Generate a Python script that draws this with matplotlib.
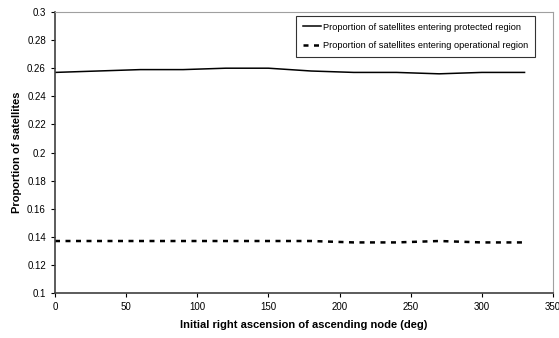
import matplotlib
matplotlib.use("Agg")
import matplotlib.pyplot as plt

plt.rcParams["font.family"] = ["Liberation Sans", "DejaVu Sans"]

raan = [0, 30, 60, 90, 120, 150, 180, 210, 240, 270, 300, 330]
protected = [0.257, 0.258, 0.259, 0.259, 0.260, 0.260, 0.258, 0.257, 0.257, 0.256, 0.257, 0.257]
operational = [0.137, 0.137, 0.137, 0.137, 0.137, 0.137, 0.137, 0.136, 0.136, 0.137, 0.136, 0.136]

fig = plt.figure(figsize=(5.59, 3.38), dpi=100)
ax = fig.add_axes([55 / 559, 45 / 338, 498 / 559, 281 / 338])

ax.plot(raan, protected, color="black", lw=1.1,
        label="Proportion of satellites entering protected region")
ax.plot(raan, operational, color="black", lw=1.8, linestyle=(0, (2, 2.2)),
        label="Proportion of satellites entering operational region")

ax.set_xlim(0, 350)
ax.set_ylim(0.1, 0.3)
ax.set_xticks(range(0, 351, 50))
ax.set_yticks([0.1 + 0.02 * i for i in range(11)])
ax.set_yticklabels(["0.1", "0.12", "0.14", "0.16", "0.18", "0.2",
                    "0.22", "0.24", "0.26", "0.28", "0.3"])
ax.tick_params(labelsize=7, length=3, width=0.8, direction="out")
ax.set_xlabel("Initial right ascension of ascending node (deg)", fontsize=8,
              fontweight="bold", labelpad=6)
ax.set_ylabel("Proportion of satellites", fontsize=8, fontweight="bold", labelpad=4)

for s in ("top", "right"):
    ax.spines[s].set_color("#a0a0a0")
for s in ("left", "bottom"):
    ax.spines[s].set_color("#404040")
    ax.spines[s].set_linewidth(1.2)

leg = ax.legend(loc="upper right", bbox_to_anchor=(535 / 559, 1 - 16 / 338),
                bbox_transform=fig.transFigure, borderaxespad=0,
                fontsize=6.7, frameon=True, fancybox=False,
                edgecolor="black", handlelength=2.0, handletextpad=0.2,
                labelspacing=1.05, borderpad=0.7)
leg.get_frame().set_linewidth(0.8)

fig.savefig("out.png", dpi=100)
